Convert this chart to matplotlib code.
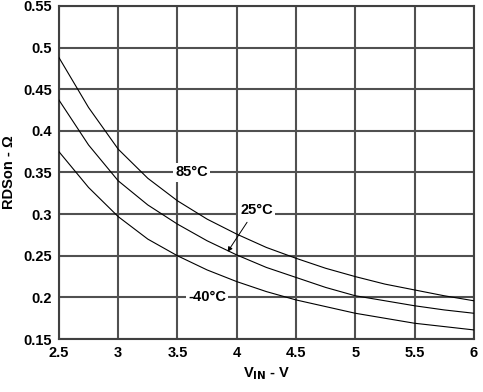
import matplotlib
matplotlib.use('Agg')
import matplotlib.pyplot as plt
import numpy as np

plt.rcParams['font.family'] = ['Liberation Sans', 'DejaVu Sans']
plt.rcParams['font.weight'] = 'bold'

# input voltage (V)
vin = [2.5, 2.75, 3.0, 3.25, 3.5, 3.75, 4.0, 4.25, 4.5, 4.75, 5.0, 5.25, 5.5, 5.75, 6.0]

# RDSon (ohm) per temperature
r_85 = [0.488, 0.428, 0.378, 0.343, 0.316, 0.294, 0.276, 0.260, 0.247, 0.235, 0.225, 0.216, 0.209, 0.202, 0.196]
r_25 = [0.437, 0.383, 0.340, 0.311, 0.288, 0.268, 0.251, 0.236, 0.224, 0.212, 0.202, 0.196, 0.190, 0.185, 0.181]
r_m40 = [0.375, 0.332, 0.297, 0.270, 0.250, 0.233, 0.219, 0.207, 0.197, 0.189, 0.181, 0.175, 0.169, 0.165, 0.161]

fig = plt.figure(figsize=(4.83, 3.92), dpi=100)
ax = fig.add_axes([0.122, 0.135, 0.859, 0.850])

for r in (r_85, r_25, r_m40):
    ax.plot(vin, r, color='black', lw=0.8, zorder=3)

ax.set_xlim(2.5, 6)
ax.set_ylim(0.15, 0.55)
ax.set_xticks(np.arange(2.5, 6.01, 0.5))
ax.set_yticks(np.arange(0.15, 0.551, 0.05))
ax.set_xticklabels(['2.5', '3', '3.5', '4', '4.5', '5', '5.5', '6'])
ax.set_yticklabels(['0.15', '0.2', '0.25', '0.3', '0.35', '0.4', '0.45', '0.5', '0.55'])
ax.tick_params(length=0, labelsize=10.5, pad=5)
ax.grid(True, color='#505050', lw=1.5)
for s in ax.spines.values():
    s.set_color('#404040')
    s.set_linewidth(1.5)

ax.set_xlabel('V$_{\\mathbf{IN}}$ - V', fontsize=10.5, fontweight='bold', labelpad=4)
ax.set_ylabel('RDSon - Ω', fontsize=10.5, fontweight='bold', labelpad=5)

box = dict(facecolor='white', edgecolor='none', pad=1.5)
ax.text(3.62, 0.35, '85°C', fontsize=10.5, ha='center', va='center', bbox=box, zorder=4)
ax.text(4.17, 0.305, '25°C', fontsize=10.5, ha='center', va='center', bbox=box, zorder=4)
ax.text(3.75, 0.2, '-40°C', fontsize=10.5, ha='center', va='center', bbox=box, zorder=4)
ax.annotate('', xy=(3.91, 0.252), xytext=(4.1, 0.293),
            arrowprops=dict(arrowstyle='-|>', color='black', lw=0.7, mutation_scale=7), zorder=4)

fig.savefig('out.png', dpi=100)
